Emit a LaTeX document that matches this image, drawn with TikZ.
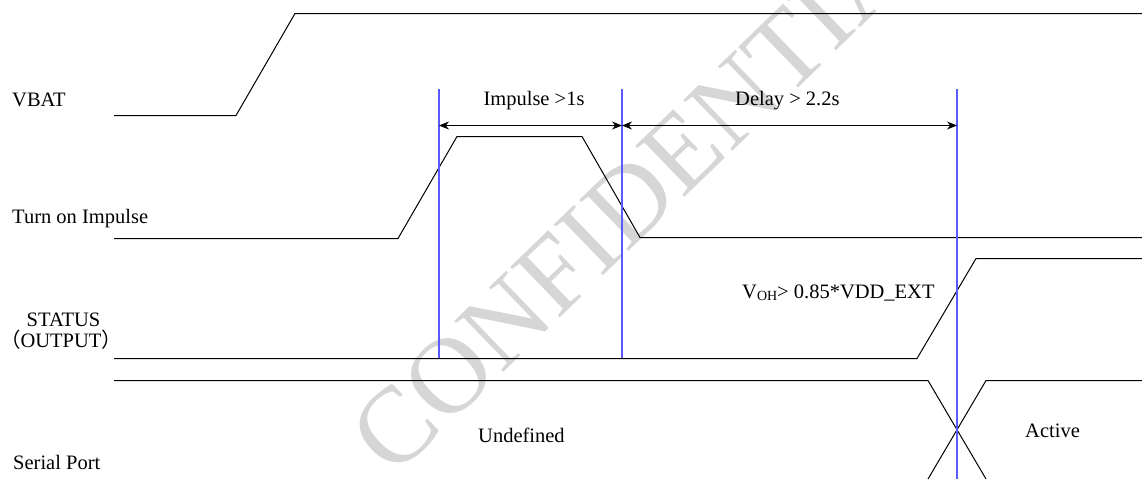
\documentclass[tikz,border=0pt]{standalone}
\usepackage{fontspec}
\setmainfont{Liberation Serif}
\newfontfamily\cjk{Noto Sans CJK SC}
\usetikzlibrary{arrows.meta}
\definecolor{markblue}{RGB}{90,90,255}
\definecolor{wmgray}{RGB}{214,214,214}
\begin{document}
\begin{tikzpicture}[x=1pt,y=-1pt,
  sig/.style={line width=1pt,black},
  marker/.style={line width=1.6pt,markblue},
  span/.style={line width=1pt,{Stealth[length=10pt,width=8pt]}-{Stealth[length=10pt,width=8pt]}},
  lbl/.style={font=\fontsize{20.5}{24}\selectfont,inner sep=0pt},
  ]
\useasboundingbox[fill=white] (0,0) rectangle (1142,479);
% watermark
\node[font=\fontsize{108}{108}\selectfont, text=wmgray, rotate=44, inner sep=0pt] (wmk) at (654,178) {CONFIDENTIAL};
% labels
\node[lbl,anchor=base west] (vbat) at (12,106) {VBAT};
\node[lbl,anchor=base west] (ton) at (12,223) {Turn on Impulse};
\node[lbl,anchor=base] (status) at (63.5,326) {STATUS};
\node[lbl,anchor=base] (output) at (61,347) {{\cjk （}OUTPUT{\cjk ）}};
\node[lbl,anchor=base west] (serial) at (13,469) {Serial Port};
\node[lbl,anchor=base] (imp) at (534,105) {Impulse >1s};
\node[lbl,anchor=base west] (delay) at (735,105) {Delay > 2.2s};
\node[lbl,anchor=base west] (voh) at (742,298) {V\raisebox{-0.25ex}{\fontsize{14}{14}\selectfont OH}> 0.85*VDD\_EXT};
\node[lbl,anchor=base west] (undef) at (478,442) {Undefined};
\node[lbl,anchor=base west] (active) at (1025,437) {Active};
% waveforms
\draw[sig] (114,115.5) -- (236,115.5) -- (295,13.5) -- (1142,13.5);
\draw[sig] (114,238.5) -- (398,238.5) -- (457,136.5) -- (582,136.5) -- (640,237.5) -- (1142,237.5);
\draw[sig] (114,358.5) -- (917,358.5) -- (976,258.5) -- (1142,258.5);
\draw[sig] (114,380.5) -- (928,380.5) -- (986,479);
\draw[sig] (928,479) -- (986,380.5) -- (1142,380.5);
% marker lines
\coordinate (b1t) at (439,89);  \coordinate (b1b) at (439,358);
\coordinate (b2t) at (622,89);  \coordinate (b2b) at (622,358);
\coordinate (b3t) at (957,89);  \coordinate (b3b) at (957,479);
\draw[marker] (b1t) -- (b1b);
\draw[marker] (b2t) -- (b2b);
\draw[marker] (b3t) -- (b3b);
% spans
\coordinate (a1) at (439,125.5);
\coordinate (a2) at (622,125.5);
\coordinate (a3) at (957,125.5);
\draw[span] (a1) -- (a2);
\draw[span] (a2) -- (a3);
\end{tikzpicture}
\end{document}
